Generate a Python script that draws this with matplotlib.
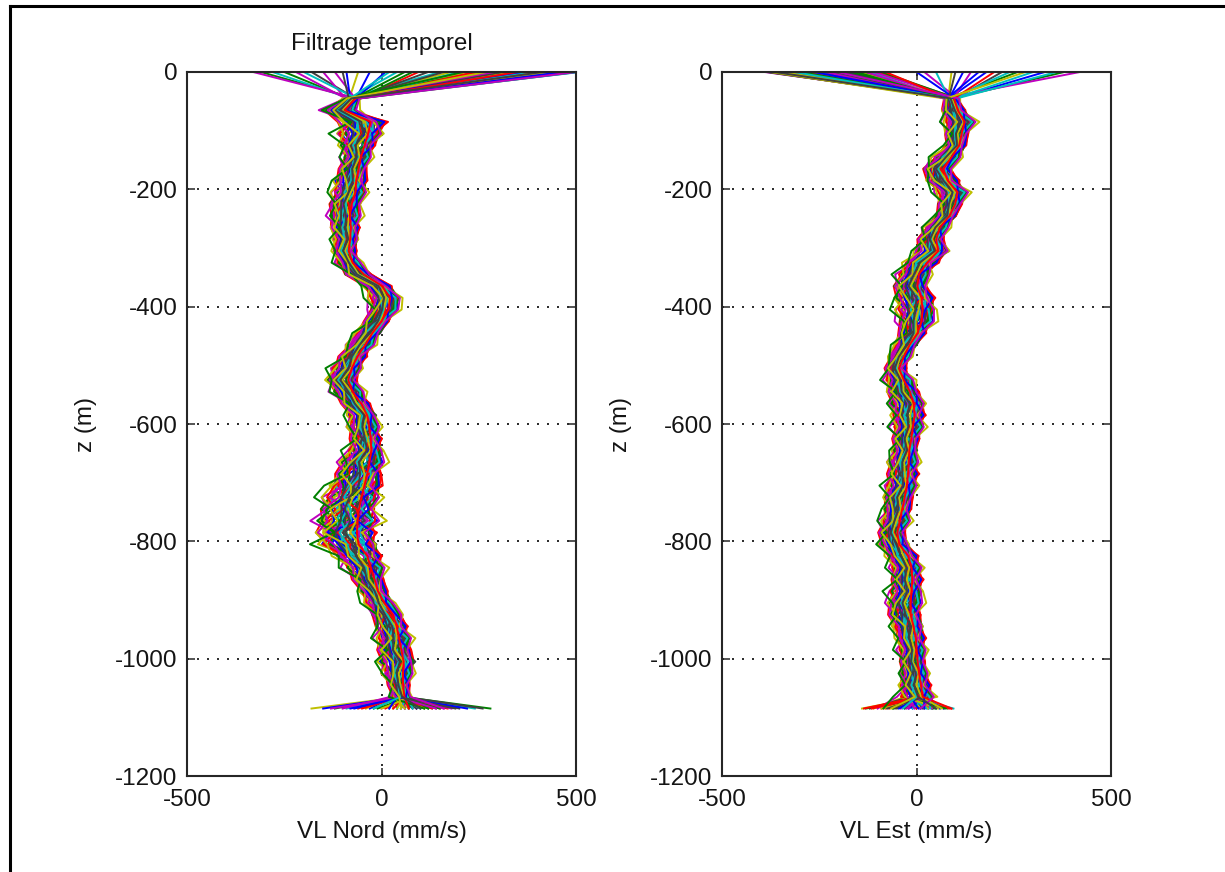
"""
Velocity profiles after time filtering: North and East components vs depth.
"""

import numpy as np
import matplotlib
matplotlib.use("Agg")
import matplotlib.pyplot as plt
from matplotlib.lines import Line2D


# =============================
# DATA
# =============================

depth = [0, -45, -65, -85, -105, -125, -145, -165, -185, -205, -225,
         -245, -265, -285, -305, -325, -345, -365, -385, -405, -425,
         -445, -465, -485, -505, -525, -545, -565, -585, -605, -625,
         -645, -665, -685, -705, -725, -745, -765, -785, -805, -825,
         -845, -865, -885, -905, -925, -945, -965, -985, -1005, -1025,
         -1045, -1065, -1085]

# bundle centre and half width for the interior depths (-45 .. -1065)
nord_mean = [-75, -110, -50, -55, -60, -65, -72, -80, -82, -92,
             -95, -92, -92, -95, -85, -58, -12, 8, 6, -12,
             -35, -53, -75, -90, -100, -88, -66, -50, -45, -42,
             -42, -50, -58, -67, -76, -84, -88, -90, -85, -58,
             -45, -33, -22, -5, 15, 24, 30, 35, 40, 42,
             45, 50]
nord_hw = [30, 55, 80, 75, 60, 45, 48, 55, 55, 55,
           50, 48, 42, 38, 40, 46, 48, 52, 44, 42,
           42, 42, 46, 50, 52, 50, 48, 48, 50, 52,
           58, 70, 78, 84, 90, 95, 98, 98, 95, 78,
           65, 55, 46, 46, 52, 55, 55, 58, 62, 48,
           38, 33]

est_mean = [90, 95, 110, 105, 100, 78, 55, 65, 92, 88,
            75, 50, 38, 40, 12, -8, -14, -6, -2, -2,
            -10, -28, -42, -55, -45, -32, -24, -20, -23, -26,
            -30, -33, -36, -39, -44, -50, -55, -62, -58, -36,
            -27, -25, -28, -30, -30, -22, -15, -12, -9, -6,
            -3, 0]
est_hw = [25, 40, 50, 40, 35, 45, 50, 55, 50, 42,
          36, 38, 45, 58, 55, 52, 58, 68, 64, 56,
          46, 38, 35, 36, 45, 55, 60, 55, 50, 46,
          42, 48, 52, 52, 50, 48, 46, 46, 50, 52,
          52, 52, 55, 55, 55, 52, 48, 45, 44, 46,
          52, 58]

# zigzag pattern of each component along depth
nord_wiggle = [0.2, -0.8, 0.9, -0.3, 0.6, -0.9, 0.4, 0.8, -0.6, 0.1,
               -0.9, 0.7, -0.2, 0.9, -0.7, 0.3, 0.8, -0.5, -0.9, 0.6,
               0.2, -0.8, 0.9, -0.4, 0.5, -0.9, 0.7, 0.1, -0.7, 0.9,
               -0.3, -0.8, 0.6, 0.9, -0.6, 0.2, -0.9, 0.8, -0.1, 0.7,
               -0.8, 0.4, 0.9, -0.5, -0.2, 0.8, -0.9, 0.5, 0.3, -0.7,
               0.6, -0.4]
est_wiggle = [-0.5, 0.7, -0.9, 0.4, 0.8, -0.6, -0.1, 0.9, -0.8, 0.3,
              0.6, -0.9, 0.5, -0.2, 0.9, -0.7, 0.1, 0.8, -0.4, -0.9,
              0.7, 0.2, -0.6, 0.9, -0.8, 0.4, -0.3, 0.8, -0.9, 0.6,
              0.1, -0.7, 0.9, -0.5, 0.3, 0.7, -0.9, 0.5, -0.2, 0.8,
              -0.6, 0.9, -0.3, -0.8, 0.6, -0.1, 0.9, -0.7, 0.4, -0.5,
              0.8, -0.6]

# position of each profile inside the bundle
profile_offset = [0.62, -0.35, 0.10, -0.80, 0.45, -0.12, 0.88, -0.55, 0.27, -0.95,
                  0.05, 0.71, -0.40, 0.33, -0.68, 0.15, 0.93, -0.22, 0.52, -0.85,
                  -0.05, 0.40, -0.60, 0.78, -0.30, 0.20, -0.75, 0.58, -0.15, 0.85,
                  -0.48, 0.08, -0.90, 0.36, 0.66, -0.26, 0.12, -0.70, 0.50, -0.42,
                  0.97, -0.08, 0.30, -0.62, 0.74, -0.18, 0.44, -0.88, 0.22, -0.52,
                  0.82, -0.02, 0.56, -0.78, 0.18, -0.34, 0.68, -0.98, 0.38, -0.10,
                  0.90, -0.45, 0.00]
profile_wiggle = [-0.9, 0.4, 0.8, -0.2, -0.6, 1.0, 0.1, -0.7, 0.5, 0.3,
                  -1.0, -0.4, 0.9, -0.1, 0.6, -0.8, 0.2, 0.7, -0.5, 0.0,
                  0.95, -0.3, -0.85, 0.45, 0.15, -0.65, 0.75, -0.05, -0.95, 0.35,
                  0.55, -0.45, 0.85, -0.15, -0.75, 0.25, 0.65, -0.55, -0.25, 1.0,
                  -0.9, 0.05, 0.4, -0.6, 0.8, -0.35, 0.1, 0.7, -0.8, 0.3,
                  -0.2, 0.9, -0.7, 0.5, -0.4, 0.2, 0.6, -1.0, 0.0, 0.45,
                  -0.5, 0.75, -0.3]

# surface (0 m) and bottom (-1085 m) values of each profile
nord_surface = [420, -250, 480, 150, 350, -60, 505, 280, -310, 460,
                40, 390, 220, -180, 500, 330, 95, 445, -120, 300,
                470, 10, 250, 410, -280, 490, 180, 370, -90, 430,
                260, 510, -220, 340, 120, 475, 60, 400, 200, -150,
                455, 310, -30, 495, 240, 380, -330, 440, 160, 360,
                80, 485, -200, 290, 425, -100, 465, 210, 350, 20,
                500, 270, 415]
est_surface = [-350, 260, -280, -120, -390, 90, -220, -330, 380, -160,
               -300, 20, -250, -370, 180, -200, -100, -340, 140, -270,
               -380, 330, -140, -310, 50, -230, -360, 220, -180, -90,
               -320, -260, 420, -150, -385, 120, -210, -290, 300, -130,
               -355, -240, 0, -170, -325, 240, -110, -375, -190, 160,
               -300, -80, 360, -235, -345, 100, -265, -155, 200, -315,
               -205, 280, -365]
nord_bottom = [60, -120, 150, 20, 90, -180, 110, 40, 280, -60,
               130, 0, 70, 200, -30, 100, 50, -90, 160, 30,
               80, -150, 120, 10, 240, 60, -40, 140, 90, -10,
               170, 40, -100, 110, 70, 220, -20, 130, 50, 180,
               0, 90, -70, 150, 30, 100, -130, 60, 260, 20,
               120, -50, 80, 140, 40, 190, -80, 110, 70, -20,
               160, 50, 100]
est_bottom = [-20, 40, -90, 10, 70, -140, 0, 30, -60, 90,
              -30, 20, -110, 50, -10, 80, -70, 30, -40, 60,
              -120, 10, 40, -80, 95, -20, 20, -50, 70, -130,
              0, 50, -100, 30, -30, 60, -60, 85, -10, 40,
              -90, 15, -45, 75, -115, 25, -25, 55, -75, 5,
              45, -135, 35, -5, 65, -55, 20, -85, 90, -35,
              10, -65, 50]

y_ticks = [0, -200, -400, -600, -800, -1000, -1200]
x_ticks = [-500, 0, 500]

# old MATLAB colour order
LINE_COLORS = [(0, 0, 1), (0, 0.5, 0), (1, 0, 0), (0, 0.75, 0.75),
               (0.75, 0, 0.75), (0.75, 0.75, 0), (0.25, 0.25, 0.25)]

FIG_W, FIG_H = 1225, 872
FONT = "Liberation Sans"
FS = 17.5
AX_COLOR = "#262626"
TXT_COLOR = "#141414"

plt.rcParams["axes.unicode_minus"] = False


# =============================
# HELPERS
# =============================

def build_profile(i, mean, hw, wiggle, surface, bottom):
    mean = np.asarray(mean, float)
    hw = np.asarray(hw, float)
    # each profile follows the zigzag with its own phase lag
    wig = np.roll(np.asarray(wiggle, float), i % 4)
    inner = mean + hw * (0.72 * profile_offset[i] + 0.42 * profile_wiggle[i] * wig)
    return np.concatenate([[surface[i]], inner, [bottom[i]]])


def draw_panel(ax, mean, hw, wiggle, surface, bottom, xlabel):
    z = np.asarray(depth, float)
    for i in range(len(surface)):
        u = build_profile(i, mean, hw, wiggle, surface, bottom)
        ax.plot(u, z, color=LINE_COLORS[i % len(LINE_COLORS)], lw=1.4)

    ax.set_xlim(-500, 500)
    ax.set_ylim(-1200, 0)
    ax.set_xticks(x_ticks)
    ax.set_yticks(y_ticks)
    ax.set_axisbelow(True)
    ax.grid(True, color="#303030", lw=1.44, linestyle=(0, (1, 4)))
    ax.tick_params(direction="in", top=True, right=True, length=6, width=1.1,
                   color=AX_COLOR, labelsize=FS, labelcolor=TXT_COLOR)
    ax.tick_params(axis="y", pad=7)
    ax.tick_params(axis="x", pad=9)
    for spine in ax.spines.values():
        spine.set_linewidth(1.5)
        spine.set_color(AX_COLOR)
    for lab in ax.get_xticklabels() + ax.get_yticklabels():
        lab.set_fontfamily(FONT)

    ax.set_xlabel(xlabel, fontsize=FS, family=FONT, color=TXT_COLOR)
    ax.set_ylabel("z (m)", fontsize=FS, family=FONT, color=TXT_COLOR)
    ax.xaxis.set_label_coords(0.5, -0.064)
    ax.yaxis.set_label_coords(-0.231, 0.5)


# =============================
# MAIN
# =============================

def main() -> None:
    fig = plt.figure(figsize=(FIG_W / 100, FIG_H / 100), dpi=100)

    ax_n = fig.add_axes([187 / FIG_W, 1 - 776 / FIG_H, 389 / FIG_W, 704 / FIG_H])
    ax_e = fig.add_axes([722 / FIG_W, 1 - 776 / FIG_H, 389 / FIG_W, 704 / FIG_H])

    draw_panel(ax_n, nord_mean, nord_hw, nord_wiggle, nord_surface, nord_bottom,
               "VL Nord (mm/s)")
    draw_panel(ax_e, est_mean, est_hw, est_wiggle, est_surface, est_bottom,
               "VL Est (mm/s)")

    ax_n.set_title("Filtrage temporel", fontsize=FS, family=FONT,
                   color=TXT_COLOR, pad=16)

    # frame around the figure (left and top edges visible)
    x0 = 9.5 / FIG_W
    y0 = 1 - 6.0 / FIG_H
    fig.add_artist(Line2D([x0, x0], [0, y0], transform=fig.transFigure,
                          color="black", lw=2.2))
    fig.add_artist(Line2D([x0, 1], [y0, y0], transform=fig.transFigure,
                          color="black", lw=2.2))

    fig.savefig("out.png", dpi=100, facecolor="white")
    plt.close(fig)


if __name__ == "__main__":
    main()
